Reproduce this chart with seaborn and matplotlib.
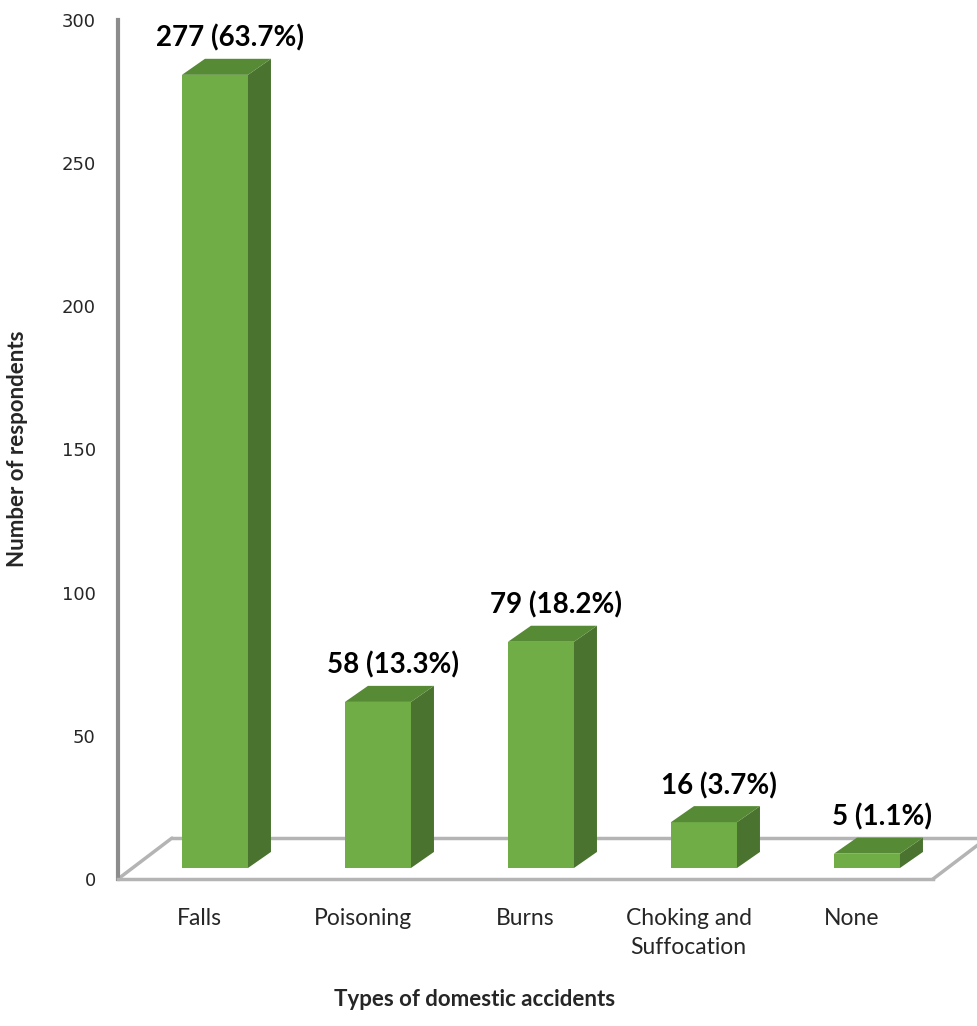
import matplotlib
matplotlib.use("Agg")
import matplotlib.pyplot as plt
import seaborn as sns
import pandas as pd
from matplotlib.patches import Polygon
from matplotlib.lines import Line2D

# ---- data ----
categories = ["Falls", "Poisoning", "Burns", "Choking and\nSuffocation", "None"]
counts = [277, 58, 79, 16, 5]
percents = [63.7, 13.3, 18.2, 3.7, 1.1]
y_ticks = [0, 50, 100, 150, 200, 250, 300]
x_title = "Types of domestic accidents"
y_title = "Number of respondents"

# ---- styles ----
FRONT = "#70AD47"
TOP = "#568A35"
SIDE = "#4A7330"
FLOOR = "#B4B4B4"
AXIS = "#8C8C8C"

sns.set_theme(style="white")
plt.rcParams['font.family'] = ['Lato', 'DejaVu Sans']

W, H = 977, 1026
fig = plt.figure(figsize=(W / 100, H / 100), dpi=100)
ax = fig.add_axes([118 / W, 1 - 879 / H, (933 - 118) / W, (879 - 20) / H])

df = pd.DataFrame({"cat": categories, "n": counts})
sns.barplot(data=df, x="cat", y="n", color=FRONT, saturation=1, width=0.405,
            ax=ax, zorder=3, linewidth=0)

ax.set_xlim(-0.5, 4.5)
ax.set_ylim(0, 300)

# 3D geometry (in data units)
shift = 0.095      # front face shift to the right
base = 3.85        # front bottom of bars above floor front edge
dx, dy = 0.141, 5.6  # bar depth
fdx, fdy = 0.331, 14.3  # floor depth

# floor
ax.add_line(Line2D([-0.5 + fdx, 4.5 + fdx], [fdy, fdy], color=FLOOR, lw=2.5, zorder=1, clip_on=False))
ax.add_line(Line2D([-0.5, -0.5 + fdx], [0, fdy], color=FLOOR, lw=2.5, zorder=1, clip_on=False))
ax.add_line(Line2D([4.5, 4.5 + fdx], [0, fdy], color=FLOOR, lw=2.5, zorder=1, clip_on=False))

for p, n, pct in zip(ax.patches, counts, percents):
    x0 = p.get_x() + shift
    w = p.get_width()
    h = p.get_height()
    p.set_x(x0)
    p.set_y(base)
    x1 = x0 + w
    top = base + h
    side = Polygon([(x1, base), (x1 + dx, base + dy), (x1 + dx, top + dy), (x1, top)],
                   closed=True, facecolor=SIDE, edgecolor="none", zorder=3)
    topf = Polygon([(x0, top), (x0 + dx, top + dy), (x1 + dx, top + dy), (x1, top)],
                   closed=True, facecolor=TOP, edgecolor="none", zorder=3)
    ax.add_patch(side)
    ax.add_patch(topf)
    ax.text(x0 + (w + dx) / 2 + 0.02, top + dy + 2.5, f"{n} ({pct}%)",
            ha="center", va="bottom", fontsize=20, fontweight="bold", color="black")

# spines
for s in ["top", "right"]:
    ax.spines[s].set_visible(False)
ax.spines["left"].set_color(AXIS)
ax.spines["left"].set_linewidth(3)
ax.spines["bottom"].set_color(FLOOR)
ax.spines["bottom"].set_linewidth(2.5)

ax.set_yticks(y_ticks)
ax.set_yticklabels([str(t) for t in y_ticks], fontsize=13, family="DejaVu Sans")
ax.tick_params(axis="y", length=8, width=2, color=AXIS, direction="out", pad=8)

ax.set_xticks(range(len(categories)))
ax.set_xticklabels(categories, fontsize=16.5, linespacing=1.45)
ax.set_xticks([i - 0.5 for i in range(len(categories) + 1)], minor=True)
ax.tick_params(axis="x", which="major", length=0, pad=21)
ax.tick_params(axis="x", which="minor", length=9, width=2, color=FLOOR, direction="out")
for lab in ax.get_xticklabels():
    lab.set_verticalalignment("top")

ax.set_xlabel("")
ax.set_ylabel("")
fig.text(475 / W, 1 - 1000 / H, x_title, ha="center", va="center",
         fontsize=16, fontweight="bold")
fig.text(18 / W, 1 - 449 / H, y_title, ha="center", va="center", rotation=90,
         fontsize=16, fontweight="bold")

fig.savefig("out.png", dpi=100)
